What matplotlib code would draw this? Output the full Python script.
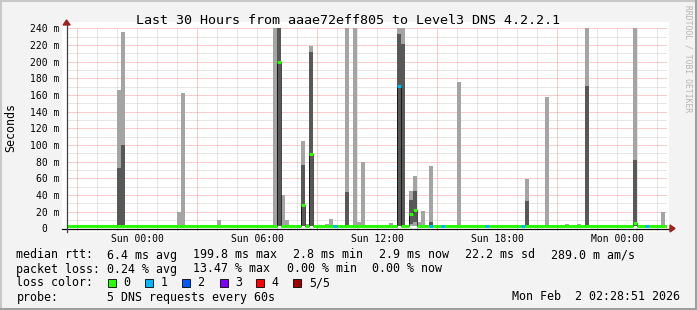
import matplotlib
matplotlib.use("Agg")
import matplotlib.pyplot as plt
import numpy as np
from matplotlib.patches import Rectangle, Polygon
from matplotlib.lines import Line2D

# ---- data (hours relative to Sun 00:00, values in ms) ----
title = "Last 30 Hours from aaae72eff805 to Level3 DNS 4.2.2.1"
x_ticks = [0, 6, 12, 18, 24]
x_tick_labels = ["Sun 00:00", "Sun 06:00", "Sun 12:00", "Sun 18:00", "Mon 00:00"]
y_ticks = [0, 20, 40, 60, 80, 100, 120, 140, 160, 180, 200, 220, 240]
y_tick_labels = ["0  ", "20 m", "40 m", "60 m", "80 m", "100 m", "120 m", "140 m",
                 "160 m", "180 m", "200 m", "220 m", "240 m"]

t_start, t_end = -3.519, 26.481
step = 0.2                      # 12 minute consolidation

base_min = 2.8                  # quiet periods: fastest ping
base_max = 4.0                  # quiet periods: slowest ping
base_median = 3.0

# smoke spikes: time, slowest ping, 4th ping, 2nd ping
spike_t   = [-1.0, -0.8, 2.0, 2.2, 4.0, 6.8, 7.0, 7.2, 7.4, 8.2, 8.4, 8.6, 9.4, 9.6,
             10.4, 10.8, 11.0, 11.2, 12.6, 13.0, 13.2, 13.6, 13.8, 14.0, 14.2, 14.6,
             15.2, 16.0, 19.4, 20.4, 21.4, 22.0, 22.4, 24.0, 24.2, 24.8, 26.2]
spike_max = [166, 235, 20, 162, 10, 300, 300, 40, 10, 105, 5, 219, 5, 11,
             300, 300, 7, 80, 6, 300, 300, 45, 63, 7, 21, 75,
             4.5, 175, 59, 157, 5, 5, 300, 4.5, 4.5, 300, 19]
spike_p4  = [72, 100, 3, 3, 3, 3, 300, 3, 3, 76, 3, 212, 3, 3,
             43, 3, 3, 3, 3, 233, 221, 34, 45, 3, 3, 7,
             3, 3, 33, 3, 3, 3, 171, 3, 3, 82, 3]
spike_p2  = [2.8, 2.8, 2.8, 2.8, 2.8, 2.8, 2.8, 2.8, 2.8, 2.8, 2.8, 2.8, 2.8, 2.8,
             2.8, 2.8, 2.8, 2.8, 2.8, 2.8, 2.8, 5, 8, 2.8, 2.8, 2.8,
             2.8, 2.8, 2.8, 2.8, 2.8, 2.8, 2.8, 2.8, 2.8, 2.8, 2.8]

# raised medians
median_t   = [7.0, 8.2, 8.6, 13.0, 13.6, 13.8, 24.8]
median_val = [200, 28.5, 89, 171, 17, 22.5, 6]

# lost pings per step (others 0)
loss_t   = [9.8, 13.0, 14.6, 15.2, 17.4, 19.2, 25.4]
loss_val = [1, 1, 1, 1, 1, 1, 1]

loss_colors = ["#26ff00", "#00b8ff", "#0059ff", "#7e00ff", "#ff0000", "#a10000"]
loss_names = ["0", "1", "2", "3", "4", "5/5"]

# ---- figure ----
W, H = 697, 310
def fx(x): return x / W
def fy(y): return 1 - y / H

mono = "DejaVu Sans Mono"
fig = plt.figure(figsize=(W / 100, H / 100), dpi=100, facecolor="#f3f3f3")

# frame
fig.add_artist(Rectangle((0, 0), 1, 1, transform=fig.transFigure, fill=False,
                         edgecolor="#c8c8c8", lw=2.2, zorder=-2))
fig.add_artist(Line2D([fx(696), fx(696)], [0, 1], color="#a0a0a0", lw=1.5))
fig.add_artist(Line2D([0, 1], [fy(309), fy(309)], color="#a0a0a0", lw=1.5))
# canvas
fig.add_artist(Rectangle((fx(62), fy(232)), (669 - 62) / W, (232 - 22) / H,
                         transform=fig.transFigure, facecolor="white",
                         edgecolor="none", zorder=-1))

ax = fig.add_axes([fx(66.6), fy(228.3), 600 / W, 200 / H])
ax.set_facecolor("white")
ax.set_xlim(t_start, t_end)
ax.set_ylim(0, 240)
for s in ax.spines.values():
    s.set_visible(False)

# grid
dot = [(0, (1, 1))]
grid_gray = "#cfcfcf"
grid_red = "#f09a9a"
hours = np.arange(-3, 27)
major_h = [h for h in hours if (h + 3) % 6 == 0]
minor_h = [h for h in hours if (h + 3) % 6 != 0]
levels = np.arange(10, 241, 10)
ax.vlines(minor_h, 0, 240, colors=grid_gray, linestyles=dot, lw=0.72, zorder=1)
ax.hlines([v for v in levels if v % 20], t_start, t_end, colors=grid_gray,
          linestyles=dot, lw=0.72, zorder=1)
ax.vlines(major_h, 0, 240, colors=grid_red, linestyles=dot, lw=0.72, zorder=1.1)
ax.hlines([v for v in levels if v % 20 == 0], t_start, t_end, colors=grid_red,
          linestyles=dot, lw=0.72, zorder=1.1)
ax.vlines(minor_h, -2.4, 0, colors="#b0b0b0", lw=0.72, clip_on=False)
ax.vlines(major_h, -2.4, 0, colors="#e06060", lw=0.72, clip_on=False)

# per-step series
shift = -1 / 60
edges = np.round(np.arange(-3.6, 26.6 + 1e-9, step), 3)
lefts = edges[:-1]
n = len(lefts)
p1 = np.full(n, base_min)
p5 = np.full(n, base_max)
p2 = np.full(n, base_min)
p4 = np.full(n, base_min + 0.4)
med = np.full(n, base_median)
loss = np.zeros(n, dtype=int)

idx = np.round((np.array(spike_t) - edges[0]) / step).astype(int)
p5[idx] = spike_max
p4[idx] = spike_p4
p2[idx] = spike_p2
idx = np.round((np.array(median_t) - edges[0]) / step).astype(int)
med[idx] = median_val
idx = np.round((np.array(loss_t) - edges[0]) / step).astype(int)
loss[idx] = loss_val

ax.bar(lefts + shift, p5 - p1, bottom=p1, width=step, align="edge",
       color="#a4a4a4", linewidth=0, zorder=2)
ax.bar(lefts + shift, p4 - p2, bottom=p2, width=step, align="edge",
       color="#585858", linewidth=0, zorder=2)
ax.stairs(med, edges + shift, baseline=None, color="black", lw=0.5, zorder=3)
ax.hlines(med, lefts + shift, lefts + step + shift,
          colors=[loss_colors[l] for l in loss], lw=2.2, zorder=4)

# ticks
ax.set_xticks(x_ticks, x_tick_labels, fontfamily=mono, fontsize=7.05)
ax.set_yticks(y_ticks, y_tick_labels, fontfamily=mono, fontsize=7.05)
ax.tick_params(axis="x", length=0, pad=4.3)
ax.tick_params(axis="y", length=0, pad=5)

# axis lines and arrows
fig.add_artist(Line2D([fx(62), fx(671)], [fy(228.5), fy(228.5)], color="black", lw=0.9, zorder=5))
fig.add_artist(Line2D([fx(66.6), fx(66.6)], [fy(232), fy(24)], color="#404040", lw=0.9, zorder=5))
fig.add_artist(Polygon([[fx(670), fy(225)], [fx(670), fy(232)], [fx(675), fy(228.5)]],
                       transform=fig.transFigure, color="#a02020", zorder=6))
fig.add_artist(Polygon([[fx(63.1), fy(25)], [fx(70.1), fy(25)], [fx(66.6), fy(20)]],
                       transform=fig.transFigure, color="#a02020", zorder=6))

# texts
fig.text(fx(348.5), fy(24.5), title, ha="center", va="baseline", fontfamily=mono, fontsize=9.6)
fig.text(fx(10.5), fy(127.5), "Seconds", rotation=90, ha="center", va="center",
         fontfamily=mono, fontsize=8.4)
fig.text(fx(688), fy(58.5), "RRDTOOL / TOBI OETIKER", rotation=270, ha="center", va="center",
         fontfamily=mono, fontsize=5.8, color="#b4b4b4")

leg = [
    (258.5, [(16.4, "median rtt:"), (107, "6.4 ms avg"), (193, "199.8 ms max"),
             (293, "2.8 ms min"), (379, "2.9 ms now"), (465, "22.2 ms sd"),
             (551, "289.0 m am/s")]),
    (272.5, [(16.4, "packet loss:"), (107, "0.24 % avg"), (193, "13.47 % max"),
             (286.7, "0.00 % min"), (372, "0.00 % now")]),
    (286.5, [(16.4, "loss color:")]),
    (300.5, [(16.4, "probe:"), (107, "5 DNS requests every 60s")]),
]
for yb, parts in leg:
    for xp, s in parts:
        fig.text(fx(xp), fy(yb), s, ha="left", va="baseline", fontfamily=mono, fontsize=8.37)
fig.text(fx(680), fy(300.5), "Mon Feb  2 02:28:51 2026", ha="right", va="baseline",
         fontfamily=mono, fontsize=8.37)

box_x = [108, 145.3, 182, 219.6, 256.4, 293.3]
for bx, c, name in zip(box_x, loss_colors, loss_names):
    fig.add_artist(Rectangle((fx(bx), fy(286.7)), 8 / W, 8 / H, transform=fig.transFigure,
                             facecolor=c, edgecolor="black", lw=0.6))
    fig.text(fx(bx + 15.5), fy(286.5), name, ha="left", va="baseline",
             fontfamily=mono, fontsize=8.37)

fig.savefig("out.png", dpi=100)
